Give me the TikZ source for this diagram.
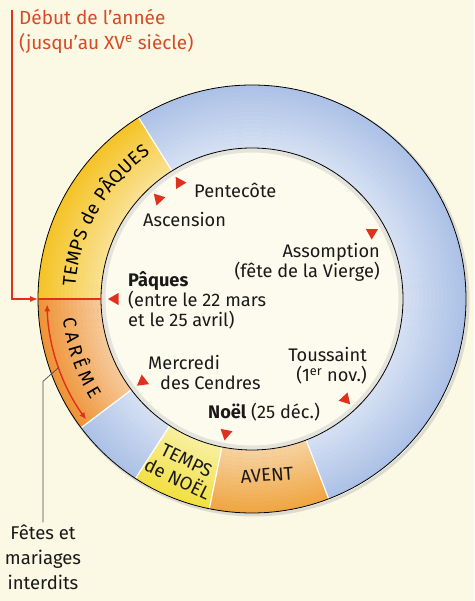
\documentclass[tikz,border=0pt]{standalone}
\usepackage{fontspec}
\setmainfont{Fira Sans}
\usetikzlibrary{calc,arrows.meta,shapes.geometric,decorations.text}

\definecolor{fond}{HTML}{FBF8E4}
\definecolor{disque}{HTML}{FDFBEE}
\definecolor{bleu}{HTML}{A9BFE6}
\definecolor{jauneP}{HTML}{F5C21F}
\definecolor{orangeC}{HTML}{EE9030}
\definecolor{jauneN}{HTML}{F2DF3C}
\definecolor{orangeA}{HTML}{EFA33C}
\definecolor{rouge}{HTML}{E0301E}
\definecolor{rougetxt}{HTML}{D64A24}
\newcommand\ringfont{\fontsize{18.5}{21}\selectfont}

\tikzset{
  txt/.style={font=\fontsize{18.2}{20}\selectfont, text=black!90, inner sep=1pt},
  redtri/.style={regular polygon, regular polygon sides=3, fill=rouge, inner sep=0pt, minimum size=14pt},
  redline/.style={rouge, line width=1.4pt},
}

\begin{document}
\begin{tikzpicture}[x=1pt,y=1pt]
        \fill[fond] (0,0) rectangle (474,601);
        \useasboundingbox (0,0) rectangle (474,601);
        \coordinate (C) at (252,302);

        % Ombre de l'anneau
        \draw[black!25, line width=3pt, opacity=.5] ($(C)+(2,-2)$) circle[radius=214pt];

        % Secteurs de l'anneau
        \foreach \a/\b/\col in {122/180/jauneP, 180/217/orangeC, 217/237/bleu, 237/258.5/jauneN, 258.5/291/orangeA, 291/482/bleu}
          \fill[\col] ($(C)+(\a:214pt)$) arc[start angle=\a, end angle=\b, radius=214pt]
            -- ($(C)+(\b:151pt)$) arc[start angle=\b, end angle=\a, radius=151pt] -- cycle;

        % Degrade vers l'interieur
        \foreach \k in {0,...,15} {
          \pgfmathsetmacro\rr{153+4*\k}
          \pgfmathsetmacro\op{0.5*(1-\k/16)}
          \draw[white, opacity=\op, line width=4pt] (C) circle[radius=\rr pt];
        }

        % Separations
        \foreach \a in {122,217,237,258.5,291}
          \draw[white, line width=1.2pt] ($(C)+(\a:151pt)$) -- ($(C)+(\a:214pt)$);

        % Disque central
        \fill[disque] (C) circle[radius=151pt];
        \draw[black!20, line width=4pt, opacity=.5] (C) circle[radius=148.5pt];
        \draw[line width=0.8pt] (C) circle[radius=151pt];
        \draw[line width=0.8pt] (C) circle[radius=214pt];

        % Paques et careme
        \draw[rouge, line width=2.6pt] ($(C)+(180:151pt)$) -- ($(C)+(180:214pt)$);
        \draw[redline, {Latex[length=7pt,width=6pt]}-{Latex[length=7pt,width=6pt]}]
          ($(C)+(181.5:205pt)$) arc[start angle=181.5, end angle=216, radius=205pt];

        % Textes sur l'anneau
        \path[decorate, decoration={text along path, text align={fit to path}, text={|\ringfont|TEMPS de PÂQUES}}]
          ($(C)+(176:177pt)$) arc[start angle=176, end angle=125, radius=177pt];
        \path[decorate, decoration={text along path, text align={fit to path}, text={|\ringfont|CARÊME}}]
          ($(C)+(186:190pt)$) arc[start angle=186, end angle=212, radius=190pt];
        \node[txt, font=\ringfont, rotate=-26, align=center] (tnoel) at (182,131) {TEMPS\\de NOËL};
        \node[txt, font=\ringfont, rotate=4] (avent) at (267,126) {AVENT};

        % Reperes
        \foreach \nm/\a in {tPaq/180, tAsc/133, tPen/122, tAss/29, tTou/313, tNoe/259, tCen/217}
          \node[redtri, rotate=\a-90] (\nm) at ($(C)+(\a:137pt)$) {};

        % Fetes
        \node[txt, anchor=west] (pentecote) at (193,411) {Pentecôte};
        \node[txt, anchor=west] (ascension) at (142,381) {Ascension};
        \node[txt, anchor=east, align=right] (assomption) at (381,339) {Assomption\\(fête de la Vierge)};
        \node[txt, anchor=west, align=left] (paques) at (127,301) {\textbf{Pâques}\\(entre le 22 mars\\et le 25 avril)};
        \node[txt, anchor=west, align=left] (cendres) at (147,228) {Mercredi\\\hspace*{12pt}des Cendres};
        \node[txt, anchor=east, align=right] (toussaint) at (368,235) {Toussaint\\(1\textsuperscript{er} nov.)};
        \node[txt, anchor=west] (noel) at (207,189) {\textbf{Noël} (25 déc.)};

        % Debut de l'annee
        \node[anchor=west, align=left, text=rougetxt, inner sep=0pt, font=\fontsize{19}{25}\selectfont] (debut) at (19,570) {Début de l’année\\(jusqu’au XV\textsuperscript{e} siècle)};
        \coordinate (dtop) at (12,591);
        \coordinate (pqOut) at ($(C)+(180:214pt)$);
        \draw[redline, -{Latex[length=8pt,width=6pt]}] (dtop) |- (pqOut);

        % Interdits
        \node[align=center, inner sep=2pt, text=black!90, font=\fontsize{18.5}{25}\selectfont] (fetes) at (43,44) {Fêtes et\\mariages\\interdits};
        \coordinate (arrPt) at ($(C)+(199.5:205pt)$);
        \draw[black!70, line width=0.7pt] (fetes.north) -- ++(0,141) -- (arrPt);
\end{tikzpicture}
\end{document}
